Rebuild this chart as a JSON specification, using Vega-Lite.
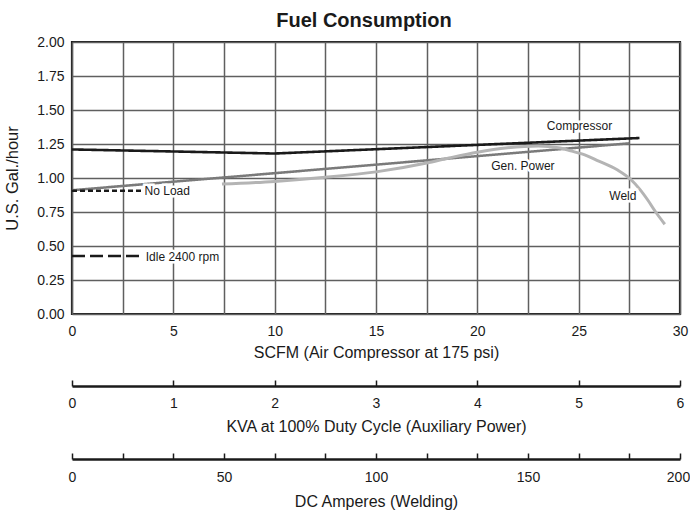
{
  "$schema": "https://vega.github.io/schema/vega-lite/v6.json",
  "width": 608,
  "height": 272,
  "autosize": {"type": "none"},
  "padding": {"left": 72, "top": 42, "right": 10, "bottom": 198},
  "background": "white",
  "title": {"text": "Fuel Consumption", "fontSize": 20, "fontWeight": "bold", "anchor": "middle", "dx": -12, "offset": 4, "color": "#1a1a1a"},
  "config": {
    "font": "Liberation Sans, Arial, sans-serif",
    "view": {"stroke": "#1a1a1a", "strokeWidth": 2.2}
  },
  "datasets": {
    "curves": [
      {"series": "Compressor", "scfm": 0, "gal": 1.21},
      {"series": "Compressor", "scfm": 10, "gal": 1.18},
      {"series": "Compressor", "scfm": 28, "gal": 1.294},
      {"series": "Gen. Power", "scfm": 0, "gal": 0.91},
      {"series": "Gen. Power", "scfm": 27.5, "gal": 1.255},
      {"series": "No Load", "scfm": 0, "gal": 0.906},
      {"series": "No Load", "scfm": 3.45, "gal": 0.906},
      {"series": "Idle 2400 rpm", "scfm": 0, "gal": 0.426},
      {"series": "Idle 2400 rpm", "scfm": 3.45, "gal": 0.426},
      {"series": "Weld", "scfm": 7.4, "gal": 0.955},
      {"series": "Weld", "scfm": 10, "gal": 0.975},
      {"series": "Weld", "scfm": 12.5, "gal": 1.005},
      {"series": "Weld", "scfm": 15, "gal": 1.045},
      {"series": "Weld", "scfm": 17.5, "gal": 1.11},
      {"series": "Weld", "scfm": 18.6, "gal": 1.147},
      {"series": "Weld", "scfm": 20, "gal": 1.19},
      {"series": "Weld", "scfm": 21.5, "gal": 1.222},
      {"series": "Weld", "scfm": 23, "gal": 1.235},
      {"series": "Weld", "scfm": 24, "gal": 1.222},
      {"series": "Weld", "scfm": 24.6, "gal": 1.2},
      {"series": "Weld", "scfm": 25.3, "gal": 1.17},
      {"series": "Weld", "scfm": 25.9, "gal": 1.13},
      {"series": "Weld", "scfm": 26.9, "gal": 1.06},
      {"series": "Weld", "scfm": 27.6, "gal": 0.985},
      {"series": "Weld", "scfm": 28, "gal": 0.92},
      {"series": "Weld", "scfm": 28.4, "gal": 0.84},
      {"series": "Weld", "scfm": 28.8, "gal": 0.75},
      {"series": "Weld", "scfm": 29.25, "gal": 0.66}
    ],
    "labels": [
      {"label": "Compressor", "scfm": 25.04, "gal": 1.382},
      {"label": "Gen. Power", "scfm": 22.25, "gal": 1.088},
      {"label": "Weld", "scfm": 27.18, "gal": 0.868},
      {"label": "No Load", "scfm": 4.7, "gal": 0.906},
      {"label": "Idle 2400 rpm", "scfm": 5.45, "gal": 0.422}
    ],
    "kva": [{"kva": 0}, {"kva": 6}],
    "amps": [{"amps": 0}, {"amps": 200}]
  },
  "layer": [
    {
      "layer": [
        {
          "data": {"name": "curves"},
          "transform": [{"filter": "datum.series != 'Weld'"}],
          "mark": {"type": "line", "interpolate": "linear", "strokeCap": "butt"},
          "encoding": {
            "x": {
              "field": "scfm", "type": "quantitative",
              "scale": {"domain": [0, 30], "nice": false},
              "axis": {
                "values": [0, 2.5, 5, 7.5, 10, 12.5, 15, 17.5, 20, 22.5, 25, 27.5, 30],
                "tickCount": 30,
                "labelExpr": "datum.value % 5 == 0 ? datum.label : ''",
                "ticks": false, "domain": false, "grid": true,
                "gridColor": "#5f5f5f", "gridWidth": 1.5,
                "labelPadding": 10, "labelFontSize": 14, "labelColor": "#1a1a1a",
                "labelFlush": false, "labelOverlap": false,
                "title": "SCFM (Air Compressor at 175 psi)", "titleFontSize": 16,
                "titleFontWeight": "normal", "titleColor": "#1a1a1a", "titlePadding": 6
              }
            },
            "y": {
              "field": "gal", "type": "quantitative",
              "scale": {"domain": [0, 2], "nice": false},
              "axis": {
                "values": [0, 0.25, 0.5, 0.75, 1, 1.25, 1.5, 1.75, 2],
                "tickCount": 20,
                "format": ".2f",
                "ticks": false, "domain": false, "grid": true,
                "gridColor": "#5f5f5f", "gridWidth": 1.5,
                "labelPadding": 8, "labelFontSize": 14, "labelColor": "#1a1a1a",
                "labelFlush": false, "labelOverlap": false,
                "title": "U.S. Gal./hour", "titleFontSize": 16.5,
                "titleFontWeight": "normal", "titleColor": "#1a1a1a", "titlePadding": 16
              }
            },
            "detail": {"field": "series"},
            "color": {
              "field": "series", "type": "nominal", "legend": null,
              "scale": {"domain": ["Compressor", "Gen. Power", "No Load", "Idle 2400 rpm"], "range": ["#1a1a1a", "#7a7a7a", "#1a1a1a", "#1a1a1a"]}
            },
            "strokeDash": {
              "field": "series", "type": "nominal", "legend": null,
              "scale": {"domain": ["Compressor", "Gen. Power", "No Load", "Idle 2400 rpm"], "range": [[1, 0], [1, 0], [5, 3], [13, 5]]}
            },
            "strokeWidth": {
              "field": "series", "type": "nominal", "legend": null,
              "scale": {"domain": ["Compressor", "Gen. Power", "No Load", "Idle 2400 rpm"], "range": [2.6, 2.4, 2, 2.4]}
            }
          }
        },
        {
          "data": {"name": "curves"},
          "transform": [{"filter": "datum.series == 'Weld'"}],
          "mark": {"type": "line", "interpolate": "monotone", "color": "#b4b4b4", "strokeWidth": 3},
          "encoding": {
            "x": {"field": "scfm", "type": "quantitative"},
            "y": {"field": "gal", "type": "quantitative"}
          }
        },
        {
          "data": {"name": "labels"},
          "mark": {"type": "text", "fontSize": 12, "stroke": "white", "strokeWidth": 5, "fill": "white", "align": "center", "baseline": "middle"},
          "encoding": {
            "x": {"field": "scfm", "type": "quantitative"},
            "y": {"field": "gal", "type": "quantitative"},
            "text": {"field": "label"}
          }
        },
        {
          "data": {"name": "labels"},
          "mark": {"type": "text", "fontSize": 12, "fill": "#1a1a1a", "align": "center", "baseline": "middle"},
          "encoding": {
            "x": {"field": "scfm", "type": "quantitative"},
            "y": {"field": "gal", "type": "quantitative"},
            "text": {"field": "label"}
          }
        }
      ]
    },
    {
      "data": {"name": "kva"},
      "mark": {"type": "point", "opacity": 0},
      "encoding": {
        "x": {
          "field": "kva", "type": "quantitative",
          "scale": {"domain": [0, 6], "nice": false},
          "axis": {
            "orient": "bottom", "offset": 72,
            "values": [0, 0.5, 1, 1.5, 2, 2.5, 3, 3.5, 4, 4.5, 5, 5.5, 6],
            "tickCount": 30,
            "format": "d",
            "labelExpr": "datum.value % 1 == 0 ? datum.label : ''",
            "tickSize": -6, "tickColor": "#1a1a1a", "tickWidth": 1.5,
            "domainColor": "#1a1a1a", "domainWidth": 2.5, "grid": false,
            "labelPadding": 16, "labelFontSize": 14, "labelColor": "#1a1a1a",
            "labelFlush": false, "labelOverlap": false,
            "title": "KVA at 100% Duty Cycle (Auxiliary Power)", "titleFontSize": 16,
            "titleFontWeight": "normal", "titleColor": "#1a1a1a", "titlePadding": 8
          }
        }
      }
    },
    {
      "data": {"name": "amps"},
      "mark": {"type": "point", "opacity": 0},
      "encoding": {
        "x": {
          "field": "amps", "type": "quantitative",
          "scale": {"domain": [0, 200], "nice": false},
          "axis": {
            "orient": "bottom", "offset": 145,
            "values": [0, 16.6667, 33.3333, 50, 66.6667, 83.3333, 100, 116.6667, 133.3333, 150, 166.6667, 183.3333, 200],
            "tickCount": 30,
            "format": "d",
            "labelExpr": "datum.value % 50 == 0 ? datum.label : ''",
            "labelOffset": {"condition": {"test": "datum.value == 200", "value": -2}, "value": 0},
            "tickSize": -6, "tickColor": "#1a1a1a", "tickWidth": 1.5,
            "domainColor": "#1a1a1a", "domainWidth": 2.5, "grid": false,
            "labelPadding": 17, "labelFontSize": 14, "labelColor": "#1a1a1a",
            "labelFlush": false, "labelOverlap": false,
            "title": "DC Amperes (Welding)", "titleFontSize": 16,
            "titleFontWeight": "normal", "titleColor": "#1a1a1a", "titlePadding": 9
          }
        }
      }
    }
  ],
  "resolve": {"scale": {"x": "independent"}, "axis": {"x": "independent"}}
}
